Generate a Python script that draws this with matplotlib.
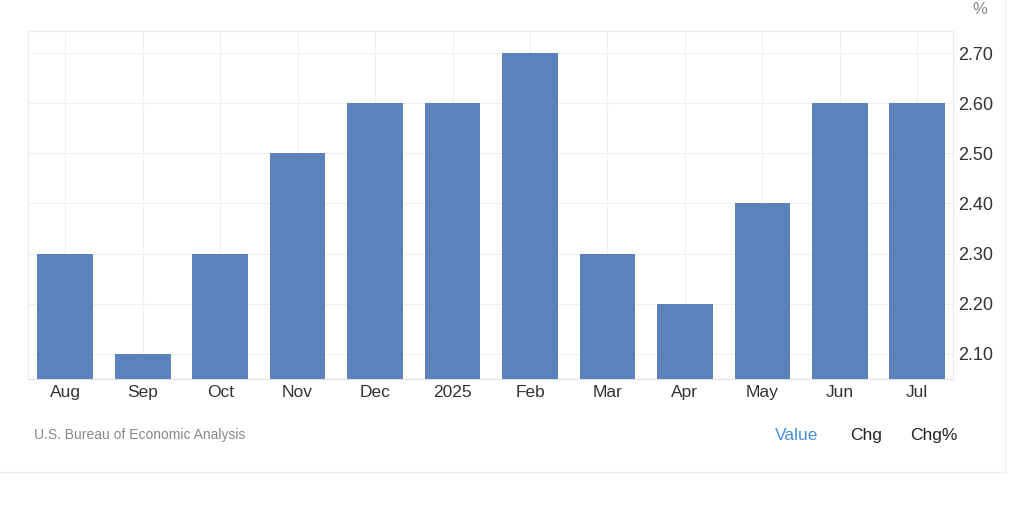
import matplotlib.pyplot as plt
import numpy as np

months = ["Aug", "Sep", "Oct", "Nov", "Dec", "2025", "Feb", "Mar", "Apr", "May", "Jun", "Jul"]
values = [2.3, 2.1, 2.3, 2.5, 2.6, 2.6, 2.7, 2.3, 2.2, 2.4, 2.6, 2.6]
yticks = [2.1, 2.2, 2.3, 2.4, 2.5, 2.6, 2.7]

plt.rcParams['font.family'] = ['Liberation Sans', 'DejaVu Sans']

fig = plt.figure(figsize=(10.24, 5.11), dpi=100)
ax = fig.add_axes([28/1024, 1 - 379/511, 925/1024, 348/511])

x = np.arange(len(months))
ax.bar(x, values, width=0.72, color="#5b82bb", zorder=3)

ax.set_xlim(-0.48, 11.46)
ax.set_ylim(2.05, 2.744)
ax.set_xticks(x)
ax.set_xticklabels(months, fontsize=12.5, color="#333333")
ax.set_yticks(yticks)
ax.set_yticklabels(["%.2f" % v for v in yticks], fontsize=13, color="#333333")
ax.yaxis.tick_right()
ax.tick_params(length=0, pad=4)
ax.tick_params(axis='x', pad=4)
ax.grid(True, color="#f0f0f0", linewidth=0.8, zorder=0)
for s in ["left", "top", "right"]:
    ax.spines[s].set_color("#ececec")
    ax.spines[s].set_linewidth(0.8)
ax.spines["bottom"].set_color("#e0e0e0")

fig.text(980/1024, 1 - 9/511, "%", fontsize=12, color="#888888", ha="center", va="center")
fig.text(34/1024, 1 - 435/511, "U.S. Bureau of Economic Analysis", fontsize=10,
         color="#888888", va="center")
fig.text(797/1024, 1 - 435/511, "Value", fontsize=12.5, color="#4a90d9", ha="center", va="center")
fig.text(866/1024, 1 - 435/511, "Chg", fontsize=12.5, color="#222222", ha="center", va="center")
fig.text(934/1024, 1 - 435/511, "Chg%", fontsize=12.5, color="#222222", ha="center", va="center")

# card border
fig.add_artist(plt.Line2D([1005/1024, 1005/1024], [1 - 472/511, 1], color="#eeeeee", lw=1))
fig.add_artist(plt.Line2D([0, 1005/1024], [1 - 472/511, 1 - 472/511], color="#eeeeee", lw=1))

fig.savefig("out.png", dpi=100)
